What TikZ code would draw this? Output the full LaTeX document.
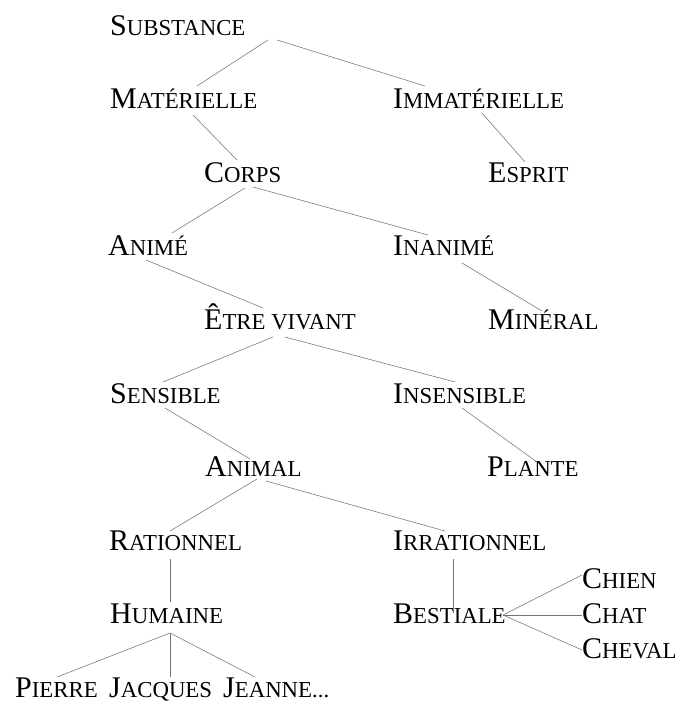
\documentclass[tikz,border=0pt]{standalone}
\usepackage{fontspec}
\setmainfont{Liberation Serif}
\newcommand\SmC[2]{#1{\fontsize{22.8}{22.8}\selectfont #2}}
\tikzset{
  lbl/.style={anchor=base west, inner sep=0pt, font=\fontsize{30}{30}\selectfont, text=black},
  br/.style={draw=black!55, line width=0.55pt}
}
\begin{document}
\begin{tikzpicture}[x=1pt,y=-1pt]
\useasboundingbox (0,0) rectangle (689,704);
\node[lbl] (sub) at (110,35) {\SmC{S}{UBSTANCE}};
\node[lbl] (mat) at (110,108.5) {\SmC{M}{ATÉRIELLE}};
\node[lbl] (imm) at (393,108.5) {\SmC{I}{MMATÉRIELLE}};
\node[lbl] (cor) at (204,182) {\SmC{C}{ORPS}};
\node[lbl] (esp) at (488,182) {\SmC{E}{SPRIT}};
\node[lbl] (ani) at (108,255.5) {\SmC{A}{NIMÉ}};
\node[lbl] (ina) at (393,255.5) {\SmC{I}{NANIMÉ}};
\node[lbl] (etr) at (204,329) {\SmC{Ê}{TRE VIVANT}};
\node[lbl] (min) at (488,329) {\SmC{M}{INÉRAL}};
\node[lbl] (sen) at (110,403) {\SmC{S}{ENSIBLE}};
\node[lbl] (ins) at (393,403) {\SmC{I}{NSENSIBLE}};
\node[lbl] (anl) at (205,476.5) {\SmC{A}{NIMAL}};
\node[lbl] (pla) at (487,476.5) {\SmC{P}{LANTE}};
\node[lbl] (rat) at (109,550) {\SmC{R}{ATIONNEL}};
\node[lbl] (irr) at (393,550) {\SmC{I}{RRATIONNEL}};
\node[lbl] (hum) at (110,623.5) {\SmC{H}{UMAINE}};
\node[lbl] (bes) at (393,623.5) {\SmC{B}{ESTIALE}};
\node[lbl] (chi) at (582,588) {\SmC{C}{HIEN}};
\node[lbl] (cht) at (582,623) {\SmC{C}{HAT}};
\node[lbl] (che) at (582,658) {\SmC{C}{HEVAL}};
\node[lbl] (pie) at (15,697) {\SmC{P}{IERRE}};
\node[lbl] (jac) at (109,697) {\SmC{J}{ACQUES}};
\node[lbl] (jea) at (223,697) {\SmC{J}{EANNE...}};
\draw[br] ([shift={(158,5)}]sub.base west) -- ([shift={(87,-22.5)}]mat.base west);
\draw[br] ([shift={(167,5)}]sub.base west) -- ([shift={(32,-22.5)}]imm.base west);
\draw[br] ([shift={(83,6.5)}]mat.base west) -- ([shift={(33,-22)}]cor.base west);
\draw[br] ([shift={(89,4.5)}]imm.base west) -- ([shift={(37,-20)}]esp.base west);
\draw[br] ([shift={(41,6)}]cor.base west) -- ([shift={(64,-22.5)}]ani.base west);
\draw[br] ([shift={(49,5)}]cor.base west) -- ([shift={(35,-20.5)}]ina.base west);
\draw[br] ([shift={(38,4.5)}]ani.base west) -- ([shift={(59,-21)}]etr.base west);
\draw[br] ([shift={(69,7.5)}]ina.base west) -- ([shift={(54,-18)}]min.base west);
\draw[br] ([shift={(69,8)}]etr.base west) -- ([shift={(53,-21)}]sen.base west);
\draw[br] ([shift={(81,8)}]etr.base west) -- ([shift={(62,-21)}]ins.base west);
\draw[br] ([shift={(55,5)}]sen.base west) -- ([shift={(45,-17.5)}]anl.base west);
\draw[br] ([shift={(69,5)}]ins.base west) -- ([shift={(50,-14.5)}]pla.base west);
\draw[br] ([shift={(52,2.5)}]anl.base west) -- ([shift={(61,-19)}]rat.base west);
\draw[br] ([shift={(61,4.5)}]anl.base west) -- ([shift={(52,-19)}]irr.base west);
\draw[br] ([shift={(61,9)}]rat.base west) -- ([shift={(60,-21.5)}]hum.base west);
\draw[br] ([shift={(60,9)}]irr.base west) -- ([shift={(60,-10.5)}]bes.base west);
\draw[br] ([shift={(60,9.5)}]hum.base west) -- ([shift={(42,-20)}]pie.base west);
\draw[br] ([shift={(60,9.5)}]hum.base west) -- ([shift={(61,-20)}]jac.base west);
\draw[br] ([shift={(60,9.5)}]hum.base west) -- ([shift={(32,-20)}]jea.base west);
\draw[br] ([shift={(110,-8.5)}]bes.base west) -- ([shift={(0,-13)}]chi.base west);
\draw[br] ([shift={(110,-8.5)}]bes.base west) -- ([shift={(0,-8)}]cht.base west);
\draw[br] ([shift={(110,-8.5)}]bes.base west) -- ([shift={(0,-8)}]che.base west);
\end{tikzpicture}
\end{document}
